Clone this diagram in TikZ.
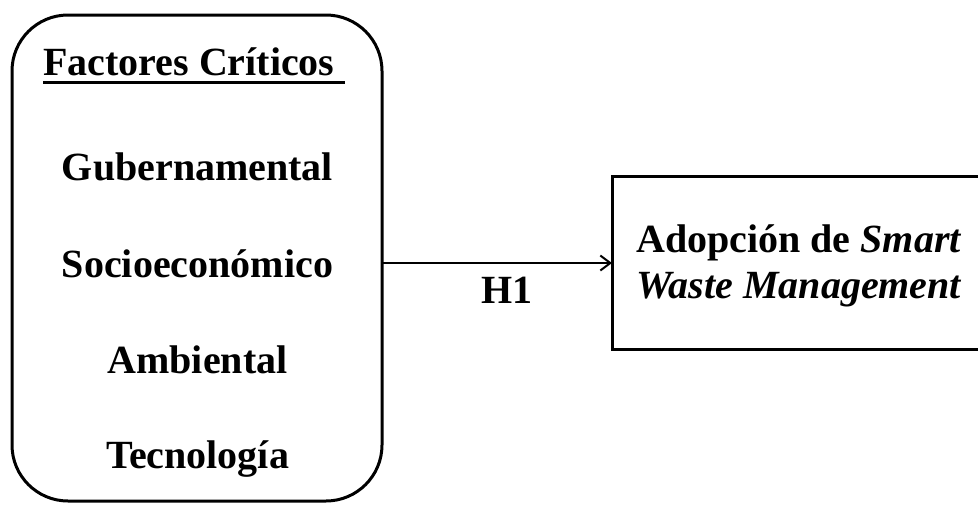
\documentclass[tikz,border=0pt]{standalone}
\usepackage{fontspec}
\setmainfont{Liberation Serif}
\usetikzlibrary{arrows.meta}
\tikzset{
  frame/.style={draw=black, line width=3pt},
  lbl/.style={font=\fontsize{40}{46}\selectfont\bfseries, inner sep=0pt},
  conn/.style={line width=2pt, -{Straight Barb[length=10pt,width=15pt]}}
}
\begin{document}
\begin{tikzpicture}[x=1pt,y=-1pt]
\clip (0,0) rectangle (978,504);
\fill[white] (0,0) rectangle (978,504);
% left rounded box
\draw[frame, rounded corners=56pt] (12,15) rectangle (382,501);
\coordinate (lbE) at (382,263);
% right box
\draw[frame] (612,176) rectangle (1000,349);
\coordinate (rbW) at (612,263);
% texts in left box
\node[lbl, anchor=base west] (fc) at (43,75) {Factores Críticos};
\draw[line width=3pt] ([yshift=-7pt]fc.base west) -- ([xshift=10pt,yshift=-7pt]fc.base east);
\node[lbl, anchor=base] (gub) at (197.5,180) {Gubernamental};
\node[lbl, anchor=base] (soc) at (197.5,277) {Socioeconómico};
\node[lbl, anchor=base] (amb) at (197.5,373) {Ambiental};
\node[lbl, anchor=base] (tec) at (197.5,468) {Tecnología};
% right box text
\node[lbl, anchor=base west] (adop1) at (636,252) {Adopción de \textit{Smart}};
\node[lbl, anchor=base west] (adop2) at (636,298) {\textit{Waste Management}};
% connector
\draw[conn] (lbE) -- (rbW);
\node[lbl, anchor=base] (h1) at (507,303) {H1};
\end{tikzpicture}
\end{document}
